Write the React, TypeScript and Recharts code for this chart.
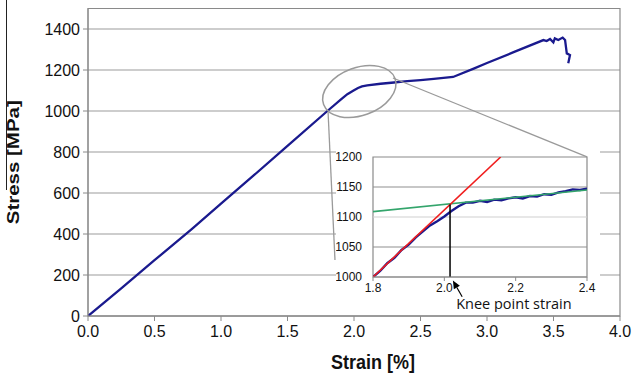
import React from 'react';
import {
  LineChart,
  Line,
  XAxis,
  YAxis,
  CartesianGrid,
  ReferenceArea,
  ReferenceLine,
  ReferenceDot,
} from 'recharts';

// ---- main curve (strain %, stress MPa) ----
const mainStrain = [
  0, 0.25, 0.5, 0.78, 1.0, 1.25, 1.5, 1.8, 1.9, 1.95, 2.0, 2.03, 2.06, 2.1, 2.2, 2.3, 2.4, 2.5,
  2.6, 2.745, 2.9, 3.0, 3.2, 3.424, 3.449, 3.474, 3.499, 3.51, 3.536, 3.569, 3.587, 3.6, 3.624,
  3.611,
];
const mainStress = [
  0, 135, 272, 424, 548, 688, 830, 1000, 1055, 1082, 1101, 1112, 1120, 1125, 1133, 1139, 1146,
  1151, 1157, 1166, 1207, 1234, 1287, 1346, 1341, 1351, 1335, 1354, 1346, 1358, 1346, 1281, 1273,
  1233,
];
const mainXTicks = [0, 0.5, 1.0, 1.5, 2.0, 2.5, 3.0, 3.5, 4.0];
const mainYTicks = [0, 200, 400, 600, 800, 1000, 1200, 1400];

// ---- inset (zoom on knee) ----
const insetStrain = [
  1.8, 1.82, 1.84, 1.86, 1.88, 1.9, 1.92, 1.94, 1.96, 1.98, 2.0, 2.02, 2.04, 2.06, 2.08, 2.1,
  2.12, 2.14, 2.16, 2.18, 2.2, 2.22, 2.24, 2.26, 2.28, 2.3, 2.32, 2.34, 2.36, 2.38, 2.4,
];
const insetStress = [
  1000, 1010, 1023, 1032, 1045, 1054, 1066, 1076, 1086, 1093, 1101, 1110, 1118, 1124, 1124, 1127,
  1125, 1129, 1128, 1131, 1133, 1131, 1135, 1134, 1138, 1137, 1141, 1143, 1146, 1145, 1147,
];
const elasticFitStrain = [1.8, 2.158];
const elasticFitStress = [1000, 1200];
const plasticFitStrain = [1.8, 2.4];
const plasticFitStress = [1109, 1145];
const kneeStrain = 2.016;
const kneeStress = 1121;
const insetXTicks = [1.8, 2.0, 2.2, 2.4];
const insetYTicks = [1000, 1050, 1100, 1150, 1200];

const mainData = mainStrain.map((x, i) => ({ x, y: mainStress[i] }));
const insetData = insetStrain.map((x, i) => ({ x, y: insetStress[i] }));
const elasticData = elasticFitStrain.map((x, i) => ({ x, y: elasticFitStress[i] }));
const plasticData = plasticFitStrain.map((x, i) => ({ x, y: plasticFitStress[i] }));

const FONT = '"Liberation Sans", Arial, sans-serif';
const GRID = '#9c9c9c';
const AXIS = '#8a8a8a';
const NAVY = '#1a1a8e';

const W = 632;
const H = 376;
const MAIN_MARGIN = { top: 8.5, right: 12, left: 0, bottom: 0 };

const EllipseShape = (p: any) => (
  <ellipse
    cx={p.cx}
    cy={p.cy}
    rx={38}
    ry={24}
    transform={`rotate(-20 ${p.cx} ${p.cy})`}
    fill="none"
    stroke="#9a9a9a"
    strokeWidth={1.5}
  />
);

const ArrowShape = (p: any) => {
  const x1 = p.x1, y1 = p.y1, x2 = p.x2, y2 = p.y2;
  if (x1 == null || x2 == null) return null;
  const ang = Math.atan2(y2 - y1, x2 - x1);
  const L = 8, Wd = 3.5;
  const bx = x2 - L * Math.cos(ang), by = y2 - L * Math.sin(ang);
  const px = -Math.sin(ang) * Wd, py = Math.cos(ang) * Wd;
  return (
    <g>
      <line x1={x1} y1={y1} x2={bx} y2={by} stroke="#000" strokeWidth={1.2} />
      <polygon points={`${x2},${y2} ${bx + px},${by + py} ${bx - px},${by - py}`} fill="#000" />
      <text
        x={x1 - 6}
        y={y1 + 12.5}
        fontFamily='"Open Sans", sans-serif'
        fontSize={14.5}
        fill="#111"
      >
        Knee point strain
      </text>
    </g>
  );
};

const YTitle = (props: any) => {
  const vb = props.viewBox || {};
  const bx = (vb.x ?? 0) + 18.5;
  const cy = (vb.y ?? 0) + (vb.height ?? 0) / 2;
  return (
    <text
      x={bx}
      y={cy}
      transform={`rotate(-90 ${bx} ${cy})`}
      textAnchor="middle"
      fontFamily={FONT}
      fontWeight="bold"
      fontSize={16.5}
      textLength={124}
      lengthAdjust="spacingAndGlyphs"
      fill="#111"
    >
      Stress [MPa]
    </text>
  );
};

const XTitle = (props: any) => {
  const vb = props.viewBox || {};
  const cx = (vb.x ?? 0) + (vb.width ?? 0) / 2 + 19;
  const cy = (vb.y ?? 0) + 46;
  return (
    <text
      x={cx}
      y={cy}
      textAnchor="middle"
      dominantBaseline="central"
      fontFamily={FONT}
      fontWeight="bold"
      fontSize={20}
      textLength={84}
      lengthAdjust="spacingAndGlyphs"
      fill="#111"
    >
      Strain [%]
    </text>
  );
};

export default function App() {
  return (
    <div style={{ position: 'absolute', left: 0, top: 0, width: W, height: H, background: '#fff', fontFamily: FONT }}>
      {/* main chart */}
      <div style={{ position: 'absolute', left: 0, top: 0 }}>
        <LineChart width={W} height={H} data={mainData} margin={MAIN_MARGIN}>
          <CartesianGrid horizontal vertical={false} stroke={GRID} strokeWidth={1.2} />
          <XAxis
            dataKey="x"
            type="number"
            domain={[0, 4]}
            ticks={mainXTicks}
            tickFormatter={(v: number) => v.toFixed(1)}
            height={60}
            tickSize={5}
            tickMargin={5}
            interval={0}
            stroke={AXIS}
            tick={{ fill: '#111', fontSize: 16, fontFamily: FONT }}
            label={<XTitle />}
            allowDataOverflow
          />
          <YAxis
            type="number"
            domain={[0, 1500]}
            ticks={mainYTicks}
            width={88}
            tickSize={5}
            tickMargin={3}
            interval={0}
            stroke={AXIS}
            tick={{ fill: '#111', fontSize: 16, fontFamily: FONT }}
            label={<YTitle />}
            allowDataOverflow
          />
          <ReferenceArea x1={0} x2={4} y1={0} y2={1500} fill="none" stroke={AXIS} strokeWidth={1.2} ifOverflow="visible" />
          <Line
            dataKey="y"
            type="linear"
            stroke={NAVY}
            strokeWidth={2.3}
            dot={false}
            isAnimationActive={false}
          />
          <ReferenceDot x={2.04} y={1095} r={1} shape={EllipseShape} ifOverflow="visible" />
        </LineChart>
      </div>

      {/* stray border line at top-left of the original figure */}
      <div style={{ position: 'absolute', left: 6, top: 0, width: 1.3, height: 190, background: '#222' }} />

      {/* inset */}
      <div style={{ position: 'absolute', left: 336, top: 147, width: 264, height: 165, background: '#fff' }}>
        <LineChart width={264} height={165} margin={{ top: 10, right: 13, left: 0, bottom: 0 }}>
          <XAxis
            dataKey="x"
            type="number"
            domain={[1.8, 2.4]}
            ticks={insetXTicks}
            tickFormatter={(v: number) => v.toFixed(1)}
            height={35}
            tickSize={4}
            tickMargin={2}
            interval={0}
            stroke={AXIS}
            tick={{ fill: '#111', fontSize: 12, fontFamily: FONT }}
            allowDataOverflow
          />
          <YAxis
            type="number"
            domain={[1000, 1200]}
            ticks={insetYTicks}
            width={37}
            tickLine={false}
            axisLine={false}
            tickSize={6}
            tickMargin={5}
            interval={0}
            tick={{ fill: '#111', fontSize: 12, fontFamily: FONT }}
            allowDataOverflow
          />
          <ReferenceLine y={1050} stroke="#8f8f8f" strokeWidth={1.2} />
          <ReferenceLine y={1100} stroke="#cfcfcf" strokeWidth={1.2} />
          <ReferenceLine y={1150} stroke="#8f8f8f" strokeWidth={1.2} />
          <ReferenceArea x1={1.8} x2={2.4} y1={1000} y2={1200} fill="none" stroke={AXIS} strokeWidth={1.2} />
          <Line data={insetData} dataKey="y" type="linear" stroke={NAVY} strokeWidth={2.4} dot={false} isAnimationActive={false} />
          <Line data={plasticData} dataKey="y" type="linear" stroke="#34a56c" strokeWidth={1.6} dot={false} isAnimationActive={false} />
          <Line data={elasticData} dataKey="y" type="linear" stroke="#f01e1e" strokeWidth={1.6} dot={false} isAnimationActive={false} />
          <ReferenceLine
            segment={[{ x: kneeStrain, y: 1000 }, { x: kneeStrain, y: kneeStress }]}
            stroke="#000"
            strokeWidth={1.5}
          />
          <ReferenceLine
            segment={[{ x: 2.05, y: 967 }, { x: 2.024, y: 994 }]}
            ifOverflow="visible"
            shape={ArrowShape}
          />
        </LineChart>
      </div>

      {/* leader lines from the ellipse to the inset */}
      <div style={{ position: 'absolute', left: 0, top: 0, pointerEvents: 'none' }}>
        <LineChart width={W} height={H} data={mainData} margin={{ top: 8.5, right: 12, left: 88, bottom: 60 }}>
          <XAxis dataKey="x" type="number" domain={[0, 4]} hide allowDataOverflow />
          <YAxis type="number" domain={[0, 1500]} hide allowDataOverflow />
          <ReferenceLine
            segment={[{ x: 1.805, y: 995 }, { x: 1.857, y: 273 }]}
            stroke="#9a9a9a"
            strokeWidth={1.3}
            ifOverflow="visible"
          />
          <ReferenceLine
            segment={[{ x: 2.293, y: 1161 }, { x: 3.752, y: 776 }]}
            stroke="#9a9a9a"
            strokeWidth={1.3}
            ifOverflow="visible"
          />
        </LineChart>
      </div>
    </div>
  );
}
